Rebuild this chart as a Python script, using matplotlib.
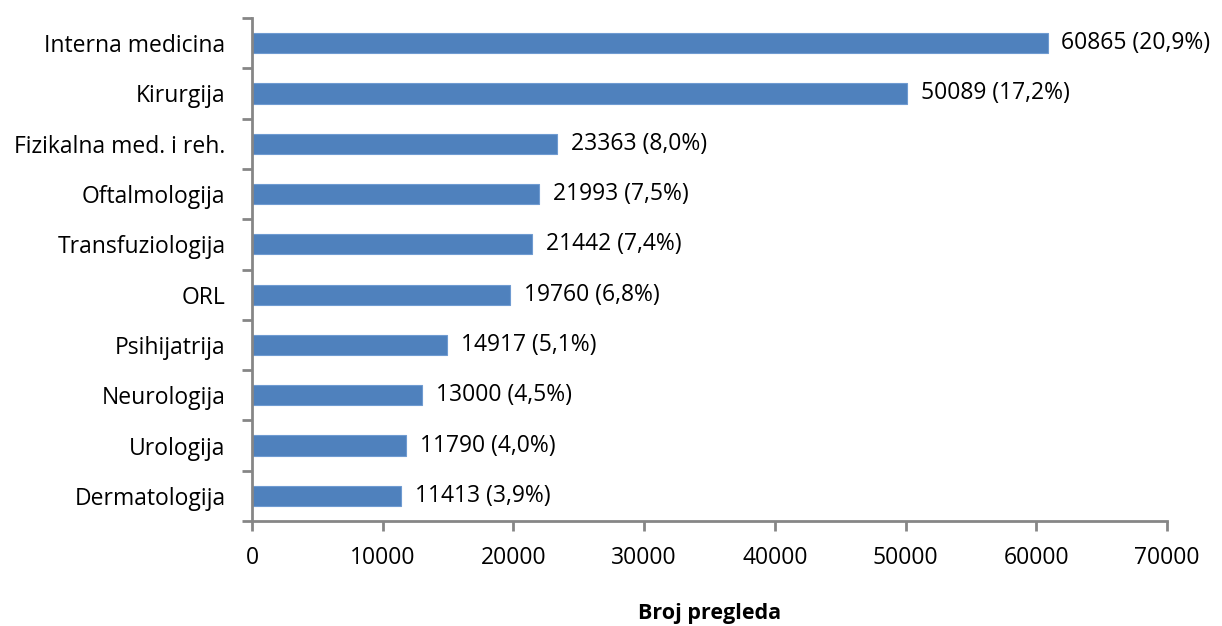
import matplotlib
matplotlib.use("Agg")
import matplotlib.pyplot as plt
import numpy as np

# data (top to bottom as in the chart)
categories = ["Interna medicina", "Kirurgija", "Fizikalna med. i reh.", "Oftalmologija",
              "Transfuziologija", "ORL", "Psihijatrija", "Neurologija", "Urologija",
              "Dermatologija"]
counts = [60865, 50089, 23363, 21993, 21442, 19760, 14917, 13000, 11790, 11413]
shares = ["20,9", "17,2", "8,0", "7,5", "7,4", "6,8", "5,1", "4,5", "4,0", "3,9"]
x_ticks = [0, 10000, 20000, 30000, 40000, 50000, 60000, 70000]

plt.rcParams['font.family'] = ['Open Sans', 'DejaVu Sans']
grey = '#868686'
bar_color = '#4F81BD'
fs = 16.5

fig = plt.figure(figsize=(12.22, 6.26), dpi=100)
ax = fig.add_axes([252 / 1222, 1 - 521 / 626, (1167 - 252) / 1222, (521 - 18) / 626])

n = len(categories)
ypos = np.arange(n)[::-1]
ax.barh(ypos, counts, height=0.4, color=bar_color, edgecolor='#6F9BD1', linewidth=0.8)

for y, c, s in zip(ypos, counts, shares):
    ax.annotate(f'{c} ({s}%)', xy=(c, y), xytext=(10, 0), textcoords='offset points',
                va='center', ha='left', fontsize=fs, color='black')

ax.set_xlim(0, 70000)
ax.set_ylim(-0.5, n - 0.5)
ax.set_xticks(x_ticks)
ax.set_xticklabels([str(v) for v in x_ticks], fontsize=fs)

# category labels between boundary ticks
ax.set_yticks(ypos)
ax.set_yticklabels(categories, fontsize=fs)
ax.tick_params(axis='y', length=0, pad=19)
ax.set_yticks(np.arange(-0.5, n, 1.0), minor=True)
ax.tick_params(axis='y', which='minor', length=7, width=2, color=grey)
ax.tick_params(axis='x', length=7, width=2, color=grey, pad=11)

for side in ['top', 'right']:
    ax.spines[side].set_visible(False)
for side in ['left', 'bottom']:
    ax.spines[side].set_color(grey)
    ax.spines[side].set_linewidth(2)

ax.set_xlabel('Broj pregleda', fontsize=15.5, fontweight='bold', labelpad=24)

fig.savefig('out.png', dpi=100)
